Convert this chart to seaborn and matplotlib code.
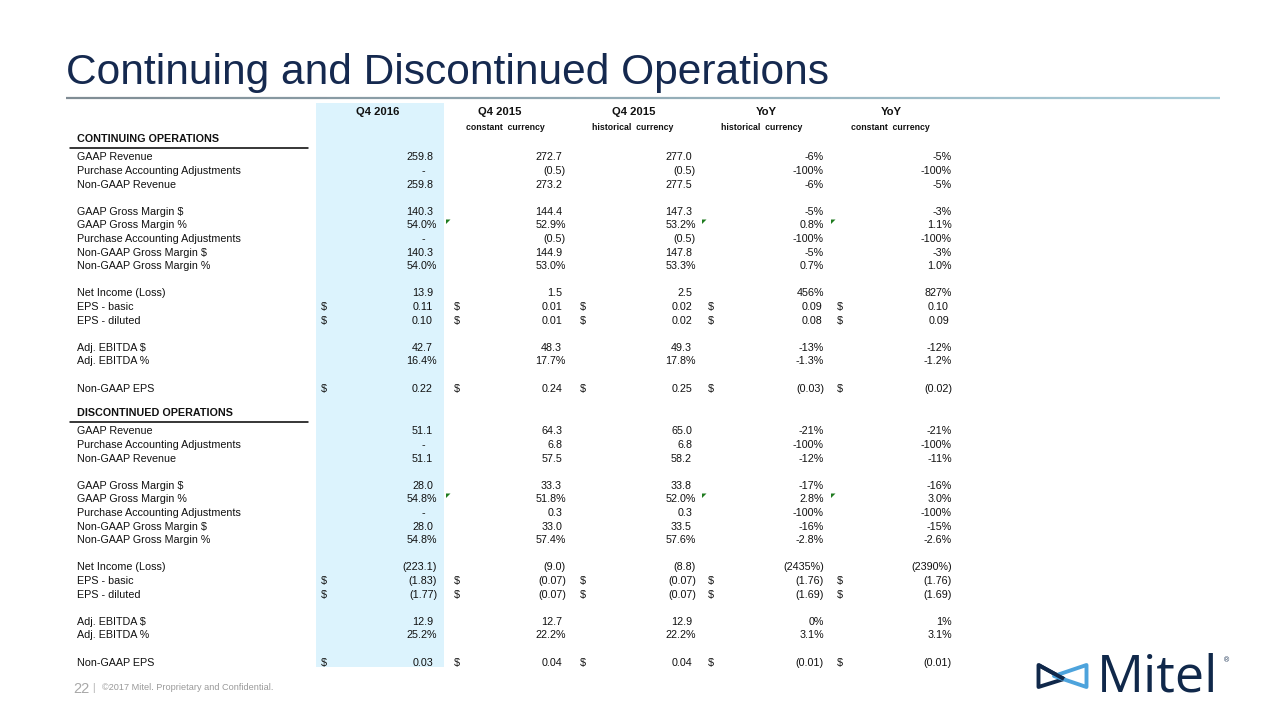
import matplotlib
matplotlib.use("Agg")
import matplotlib.pyplot as plt
from matplotlib.patches import Rectangle, Polygon
import numpy as np
import seaborn as sns

# ---------------- data ----------------
col_headers = ["Q4 2016", "Q4 2015", "Q4 2015", "YoY", "YoY"]
col_subheaders = ["", "constant  currency", "historical  currency", "historical  currency", "constant  currency"]

row_labels = ["GAAP Revenue", "Purchase Accounting Adjustments", "Non-GAAP Revenue", "",
              "GAAP Gross Margin $", "GAAP Gross Margin %", "Purchase Accounting Adjustments",
              "Non-GAAP Gross Margin $", "Non-GAAP Gross Margin %", "",
              "Net Income (Loss)", "EPS - basic", "EPS - diluted", "",
              "Adj. EBITDA $", "Adj. EBITDA %", "", "Non-GAAP EPS"]
dollar_rows = [11, 12, 17]
flag_rows = [5]

cont_q4_2016 = ["259.8", "-", "259.8", "", "140.3", "54.0%", "-", "140.3", "54.0%", "",
                "13.9", "0.11", "0.10", "", "42.7", "16.4%", "", "0.22"]
cont_q4_2015_cc = ["272.7", "(0.5)", "273.2", "", "144.4", "52.9%", "(0.5)", "144.9", "53.0%", "",
                   "1.5", "0.01", "0.01", "", "48.3", "17.7%", "", "0.24"]
cont_q4_2015_hc = ["277.0", "(0.5)", "277.5", "", "147.3", "53.2%", "(0.5)", "147.8", "53.3%", "",
                   "2.5", "0.02", "0.02", "", "49.3", "17.8%", "", "0.25"]
cont_yoy_hc = ["-6%", "-100%", "-6%", "", "-5%", "0.8%", "-100%", "-5%", "0.7%", "",
               "456%", "0.09", "0.08", "", "-13%", "-1.3%", "", "(0.03)"]
cont_yoy_cc = ["-5%", "-100%", "-5%", "", "-3%", "1.1%", "-100%", "-3%", "1.0%", "",
               "827%", "0.10", "0.09", "", "-12%", "-1.2%", "", "(0.02)"]

disc_q4_2016 = ["51.1", "-", "51.1", "", "28.0", "54.8%", "-", "28.0", "54.8%", "",
                "(223.1)", "(1.83)", "(1.77)", "", "12.9", "25.2%", "", "0.03"]
disc_q4_2015_cc = ["64.3", "6.8", "57.5", "", "33.3", "51.8%", "0.3", "33.0", "57.4%", "",
                   "(9.0)", "(0.07)", "(0.07)", "", "12.7", "22.2%", "", "0.04"]
disc_q4_2015_hc = ["65.0", "6.8", "58.2", "", "33.8", "52.0%", "0.3", "33.5", "57.6%", "",
                   "(8.8)", "(0.07)", "(0.07)", "", "12.9", "22.2%", "", "0.04"]
disc_yoy_hc = ["-21%", "-100%", "-12%", "", "-17%", "2.8%", "-100%", "-16%", "-2.8%", "",
               "(2435%)", "(1.76)", "(1.69)", "", "0%", "3.1%", "", "(0.01)"]
disc_yoy_cc = ["-21%", "-100%", "-11%", "", "-16%", "3.0%", "-100%", "-15%", "-2.6%", "",
               "(2390%)", "(1.76)", "(1.69)", "", "1%", "3.1%", "", "(0.01)"]

sections = [
    ("CONTINUING OPERATIONS", [cont_q4_2016, cont_q4_2015_cc, cont_q4_2015_hc, cont_yoy_hc, cont_yoy_cc]),
    ("DISCONTINUED OPERATIONS", [disc_q4_2016, disc_q4_2015_cc, disc_q4_2015_hc, disc_yoy_hc, disc_yoy_cc]),
]

title = "Continuing and Discontinued Operations"
footer_page = "22"
footer_text = "\u00a92017 Mitel. Proprietary and Confidential."

# ---------------- style ----------------
sns.set_theme(style="white")
plt.rcParams['font.family'] = ['Liberation Sans', 'DejaVu Sans']

NAVY = "#15294f"
TXT = "#111111"

fig = plt.figure(figsize=(12.8, 7.2), dpi=100)
ax = fig.add_axes([0, 0, 1, 1])
ax.set_xlim(0, 1280)
ax.set_ylim(720, 0)
ax.axis("off")

# title
ax.text(66, 84, title, fontsize=30.6, color=NAVY, ha="left", va="baseline")
# gradient rule under title
xs = np.linspace(66, 1220, 200)
c0 = np.array([0.50, 0.55, 0.58])
c1 = np.array([0.66, 0.80, 0.85])
for i in range(len(xs) - 1):
    t = i / (len(xs) - 2)
    ax.plot([xs[i], xs[i + 1]], [98, 98], color=c0 * (1 - t) + c1 * t, lw=1.6, solid_capstyle="butt")

# highlight column
ax.add_patch(Rectangle((316, 103), 128, 564, facecolor="#dcf3fd", edgecolor="none", zorder=0))

# column geometry
hdr_cx = [378, 500, 634, 766, 891]
sub_cx = [378, 505, 633, 762, 890]
edge_plain = [433, 562, 692, 822, 949]
edge_paren = [437, 566, 696, 824, 952]
dollar_x = [324, 457, 583, 711, 840]
flag_x = [446, 702, 831]

for cx, h in zip(hdr_cx, col_headers):
    ax.text(cx, 112, h, fontsize=8.1, fontweight="bold", color=TXT, ha="center", va="center")
for cx, s in zip(sub_cx, col_subheaders):
    if s:
        ax.text(cx, 127.5, s, fontsize=6.3, fontweight="bold", color=TXT, ha="center", va="center")

STEP = 13.6
section_y0 = [157.5, 431.5]
LBL_FS = 7.75

for (sec_title, cols), y0 in zip(sections, section_y0):
    hy = y0 - 18
    ax.text(77, hy, sec_title, fontsize=LBL_FS, fontweight="bold", color=TXT, ha="left", va="center")
    ax.plot([70, 308], [hy + 8, hy + 8], color="#000000", lw=1.1)
    for i, lab in enumerate(row_labels):
        y = y0 + i * STEP
        if lab:
            ax.text(77, y, lab, fontsize=LBL_FS, color=TXT, ha="left", va="center")
        for c, vals in enumerate(cols):
            v = vals[i]
            if not v:
                continue
            if v == "-":
                xr = edge_plain[c] - 8
            elif v.endswith(")") or v.endswith("%"):
                xr = edge_paren[c]
            else:
                xr = edge_plain[c]
            ax.text(xr, y, v, fontsize=LBL_FS, color=TXT, ha="right", va="center")
            if i in dollar_rows:
                ax.text(dollar_x[c], y, "$", fontsize=LBL_FS, color=TXT, ha="center", va="center")
        if i in flag_rows:
            for fx in flag_x:
                ax.add_patch(Polygon([[fx, y - 6], [fx + 4.5, y - 6], [fx, y - 1.5]],
                                     closed=True, facecolor="#1e7b1e", edgecolor="none"))

# footer
ax.text(73, 689, footer_page, fontsize=10.5, color="#a8a8a8", ha="left", va="center")
ax.text(93, 688, "|", fontsize=7, color="#a8a8a8", ha="center", va="center")
ax.text(102, 688, footer_text, fontsize=6.6, color="#9a9a9a", ha="left", va="center")

# logo
ax.add_patch(Polygon([[1038.5, 665], [1038.5, 687], [1064, 679]], closed=True, fill=False,
                     edgecolor="#10284a", lw=2.8, joinstyle="round"))
ax.add_patch(Polygon([[1086.5, 665], [1086.5, 687], [1054, 676]], closed=True, fill=False,
                     edgecolor="#4da3dc", lw=2.8, joinstyle="round", zorder=3))
ax.add_patch(Polygon([[1038.5, 665], [1064, 679]], closed=False, fill=False,
                     edgecolor="#10284a", lw=2.8, zorder=4))
ax.text(1097, 692, "Mitel", fontsize=37.5, color="#10284a", ha="left", va="baseline",
        family=["Open Sans", "DejaVu Sans"])
ax.text(1227, 661, "\u00ae", fontsize=5, color="#10284a", ha="center", va="center")

fig.savefig("out.png", dpi=100)
